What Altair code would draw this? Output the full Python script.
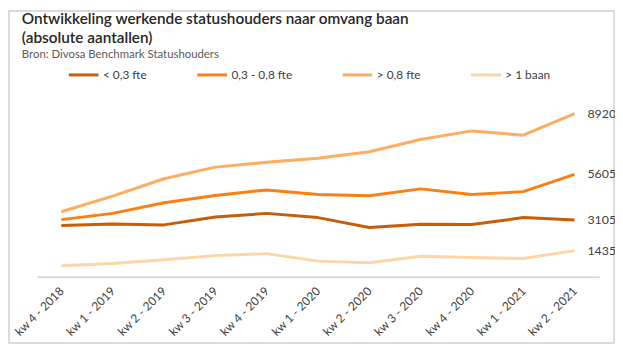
import altair as alt
import pandas as pd

quarters = ["kw 4 - 2018", "kw 1 - 2019", "kw 2 - 2019", "kw 3 - 2019", "kw 4 - 2019",
            "kw 1 - 2020", "kw 2 - 2020", "kw 3 - 2020", "kw 4 - 2020", "kw 1 - 2021", "kw 2 - 2021"]
series_names = ["< 0,3 fte", "0,3 - 0,8 fte", "> 0,8 fte", "> 1 baan"]
lt_03 = [2810, 2890, 2840, 3270, 3470, 3240, 2700, 2880, 2860, 3240, 3105]
f03_08 = [3130, 3470, 4050, 4450, 4750, 4500, 4430, 4810, 4500, 4660, 5605]
gt_08 = [3560, 4410, 5365, 6000, 6270, 6485, 6840, 7510, 7980, 7745, 8920]
gt_1baan = [605, 730, 930, 1160, 1270, 860, 770, 1130, 1055, 1000, 1435]
colors = ["#C65D0A", "#FB7F12", "#FCAD60", "#FDD6A8"]

rows = []
for name, vals in zip(series_names, [lt_03, f03_08, gt_08, gt_1baan]):
    for q, v in zip(quarters, vals):
        rows.append({"kwartaal": q, "serie": name, "aantal": v})
df = pd.DataFrame(rows)
last = df[df["kwartaal"] == quarters[-1]]

FONT = "Lato"
W, H = 569, 185

x_enc = alt.X("kwartaal:N", sort=quarters,
              scale=alt.Scale(type="point", padding=0.48),
              axis=alt.Axis(title=None, labelAngle=-45, labelAlign="right", labelBaseline="middle",
                            ticks=False, labelPadding=12, labelFontSize=12, labelColor="#404040",
                            labelFont=FONT, domainColor="#D9D9D9", domainWidth=2, labelOverlap=False))
y_enc = alt.Y("aantal:Q", scale=alt.Scale(domain=[0, 10000], nice=False), axis=None)

lines = alt.Chart(df).mark_line(strokeWidth=3, strokeJoin="round").encode(
    x=x_enc, y=y_enc,
    color=alt.Color("serie:N", sort=series_names,
                    scale=alt.Scale(domain=series_names, range=colors),
                    legend=alt.Legend(title=None, orient="none", direction="horizontal",
                                      legendX=31, legendY=-36, symbolType="stroke",
                                      symbolSize=900, symbolStrokeWidth=3, labelOffset=3,
                                      columnPadding=44, labelFontSize=12, labelColor="#404040",
                                      labelFont=FONT)),
    detail="serie:N",
)

labels = alt.Chart(last).mark_text(align="left", baseline="middle", dx=13, fontSize=12.5,
                                    color="#404040", font=FONT).encode(
    x=alt.X("kwartaal:N", sort=quarters), y="aantal:Q", text=alt.Text("aantal:Q", format="d"))

border = alt.Chart(pd.DataFrame({"a": [0]})).mark_rect(
    fill=None, stroke="#D0D0D0", strokeWidth=1.5, clip=False).encode(
    x=alt.value(-28), x2=alt.value(W + 15), y=alt.value(-84), y2=alt.value(H + 67))

chart = alt.layer(border, lines, labels).properties(
    width=W, height=H,
    autosize=alt.AutoSizeParams(type="none"),
    padding={"left": 29, "top": 85, "right": 16, "bottom": 68},
    title=alt.Title(
        text=["Ontwikkeling werkende statushouders naar omvang baan", "(absolute aantallen)"],
        subtitle="Bron: Divosa Benchmark Statushouders",
        anchor="start", frame="group", dx=-15, dy=78, offset=27,
        font=FONT, fontSize=15.5, fontWeight=600, color="#262626", lineHeight=19,
        subtitleFont=FONT, subtitleFontSize=11.5, subtitleColor="#595959", subtitlePadding=3,
    ),
).configure_view(stroke=None)

chart.save("out.html", embed_options={"renderer": "svg", "actions": False})
